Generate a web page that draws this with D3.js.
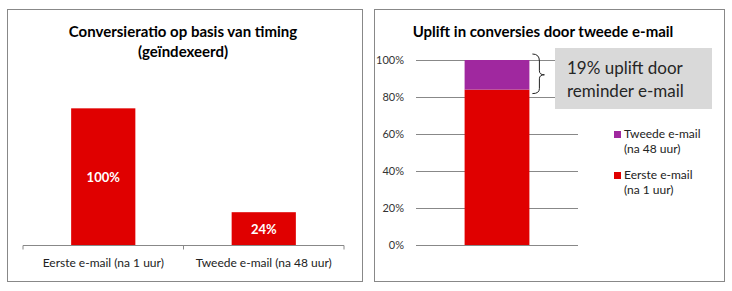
<!DOCTYPE html>
<html>
<head>
<meta charset="utf-8">
<script src="https://cdn.jsdelivr.net/npm/d3@7"></script>
<style>
  body { margin: 0; background: #fff; }
  svg { display: block; font-family: Lato, "Open Sans", sans-serif; }
</style>
</head>
<body>
<div id="chart"></div>
<script>
// left chart data
const leftTitle = ["Conversieratio op basis van timing", "(geïndexeerd)"];
const leftCategories = ["Eerste e-mail (na 1 uur)", "Tweede e-mail (na 48 uur)"];
const leftValues = [100, 24];

// right chart data
const rightTitle = "Uplift in conversies door tweede e-mail";
const rightSeries = ["Eerste e-mail (na 1 uur)", "Tweede e-mail (na 48 uur)"];
const rightValues = [84, 16];
const rightTicks = [0, 20, 40, 60, 80, 100];
const calloutLines = ["19% uplift door", "reminder e-mail"];

const red = "#e00000", purple = "#a0289f";

const svg = d3.select("#chart").append("svg")
    .attr("width", 732)
    .attr("height", 291);

// panel borders
svg.append("rect").attr("x", 7.5).attr("y", 9.5).attr("width", 355).attr("height", 272)
    .attr("fill", "#fff").attr("stroke", "#888");
svg.append("rect").attr("x", 374.5).attr("y", 9.5).attr("width", 350).attr("height", 272)
    .attr("fill", "#fff").attr("stroke", "#888");

// ---------- left chart ----------
const left = svg.append("g");

left.selectAll(".ltitle")
  .data(leftTitle)
  .enter().append("text")
    .attr("x", 183)
    .attr("y", (d, i) => 37 + i * 20)
    .attr("text-anchor", "middle")
    .attr("font-weight", "bold")
    .attr("font-size", "15px")
    .attr("fill", "#000")
    .text(d => d);

const xL = d3.scaleBand()
  .domain(leftCategories)
  .range([23, 344])
  .paddingInner(0.6)
  .paddingOuter(0.3);

const yL = d3.scaleLinear()
  .domain([0, 120])
  .range([245, 81]);

left.selectAll(".lbar")
  .data(leftValues)
  .enter().append("rect")
    .attr("x", (d, i) => xL(leftCategories[i]))
    .attr("y", d => yL(d))
    .attr("width", xL.bandwidth())
    .attr("height", d => yL(0) - yL(d))
    .attr("fill", red);

left.selectAll(".llabel")
  .data(leftValues)
  .enter().append("text")
    .attr("x", (d, i) => xL(leftCategories[i]) + xL.bandwidth() / 2)
    .attr("y", d => (yL(d) + yL(0)) / 2 + 5)
    .attr("text-anchor", "middle")
    .attr("font-weight", "bold")
    .attr("font-size", "13px")
    .attr("fill", "#fff")
    .text(d => d + "%");

// category axis with ticks between categories
const axL = left.append("g").attr("transform", "translate(0,245.5)");
axL.append("line").attr("x1", 23).attr("x2", 344).attr("stroke", "#888");
[23, (23 + 344) / 2, 344].forEach(x => {
  axL.append("line").attr("x1", x).attr("x2", x).attr("y1", 0).attr("y2", 4).attr("stroke", "#888");
});
axL.selectAll("text")
  .data(leftCategories)
  .enter().append("text")
    .attr("x", d => xL(d) + xL.bandwidth() / 2)
    .attr("y", 21)
    .attr("text-anchor", "middle")
    .attr("font-size", "12px")
    .attr("fill", "#222")
    .text(d => d);

// ---------- right chart ----------
const right = svg.append("g");

right.append("text")
    .attr("x", 543)
    .attr("y", 37)
    .attr("text-anchor", "middle")
    .attr("font-weight", "bold")
    .attr("font-size", "15px")
    .attr("fill", "#000")
    .text(rightTitle);

const yR = d3.scaleLinear()
  .domain([0, 100])
  .range([245, 60]);

const xR = d3.scaleBand()
  .domain(["total"])
  .range([416, 578])
  .paddingOuter(0.75);

const gridR = right.append("g").attr("transform", "translate(416,0)")
  .call(d3.axisLeft(yR).tickValues(rightTicks).tickFormat(d => d + "%")
        .tickSize(-162).tickPadding(12));
gridR.select(".domain").remove();
gridR.selectAll(".tick line").attr("stroke", "#888");
gridR.selectAll(".tick text")
    .attr("font-family", "Lato, sans-serif")
    .attr("font-size", "11px")
    .attr("fill", "#333");

// stacked bar
const stack = d3.stack().keys(rightSeries)([
  Object.fromEntries(rightSeries.map((s, i) => [s, rightValues[i]]))
]);
right.selectAll(".seg")
  .data(stack)
  .enter().append("rect")
    .attr("x", xR("total"))
    .attr("y", d => yR(d[0][1]))
    .attr("width", xR.bandwidth())
    .attr("height", d => yR(d[0][0]) - yR(d[0][1]))
    .attr("fill", (d, i) => i === 0 ? red : purple);

// brace beside the top segment
const bTop = yR(100), bBot = yR(rightValues[0]), bMid = (bTop + bBot) / 2;
const bx = xR("total") + xR.bandwidth();
right.append("path")
    .attr("d", `M${bx + 3},${bTop - 6} Q${bx + 10},${bTop - 6} ${bx + 10},${bTop + 1}
               L${bx + 10},${bMid - 4} Q${bx + 10},${bMid} ${bx + 15},${bMid}
               Q${bx + 10},${bMid} ${bx + 10},${bMid + 4}
               L${bx + 10},${bBot - 1} Q${bx + 10},${bBot + 4} ${bx + 3},${bBot + 4}`)
    .attr("fill", "none")
    .attr("stroke", "#222")
    .attr("stroke-width", 1);

// callout box
right.append("rect")
    .attr("x", 555).attr("y", 48).attr("width", 157).attr("height", 61)
    .attr("fill", "#d9d9d9");
right.selectAll(".callout")
  .data(calloutLines)
  .enter().append("text")
    .attr("x", 567)
    .attr("y", (d, i) => 74 + i * 23)
    .attr("font-size", "17px")
    .attr("fill", "#262626")
    .text(d => d);

// legend (reverse order, top series first)
const legendItems = rightSeries.map((s, i) => ({
  lines: [s.replace(/ \(.*$/, ""), s.match(/\(.*\)/)[0]],
  color: i === 0 ? red : purple
})).reverse();

const lg = right.selectAll(".legend")
  .data(legendItems)
  .enter().append("g")
    .attr("transform", (d, i) => `translate(614,${134 + i * 41})`);
lg.append("rect")
    .attr("x", 0).attr("y", -3).attr("width", 7).attr("height", 7)
    .attr("fill", d => d.color);
lg.selectAll("text")
  .data(d => d.lines)
  .enter().append("text")
    .attr("x", 10)
    .attr("y", (d, i) => 4 + i * 15)
    .attr("font-size", "12px")
    .attr("fill", "#222")
    .text(d => d);
</script>
</body>
</html>
